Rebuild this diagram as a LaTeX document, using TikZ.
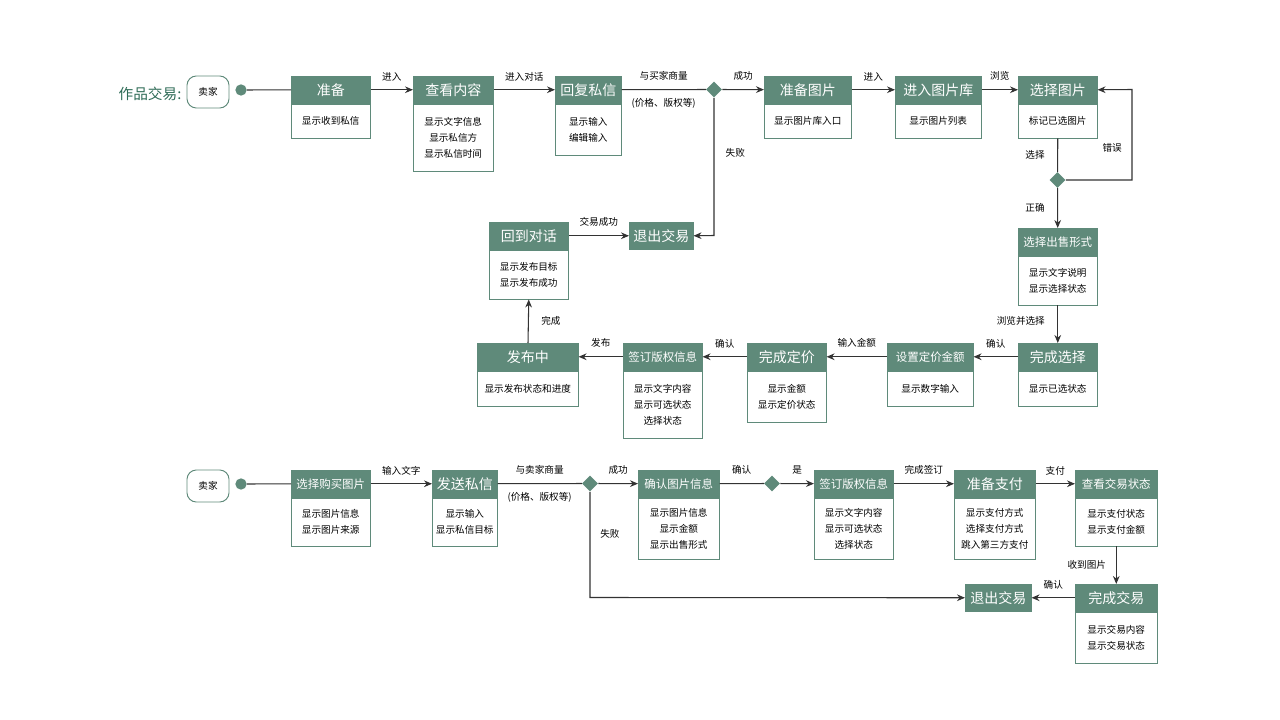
\documentclass[tikz,border=0pt]{standalone}
\usepackage{fontspec}
\setmainfont{Noto Sans CJK SC}
\usetikzlibrary{arrows.meta,shapes.geometric}
\definecolor{hdc}{HTML}{5F8A7A}
\definecolor{ttl}{HTML}{2E6B56}
\definecolor{ln}{HTML}{333333}
\newcommand\sm[1]{{\fontsize{8.6pt}{10pt}\selectfont #1}}
\tikzset{
 hdr/.style={fill=hdc,draw=hdc,text=white,font=\fontsize{10.5pt}{12pt}\selectfont,inner sep=0pt,minimum height=20.25pt},
 bd/.style={draw=hdc,line width=0.7pt,fill=white,align=center,font=\fontsize{7.2pt}{12pt}\selectfont,inner sep=0pt},
 lab/.style={font=\fontsize{7.2pt}{9pt}\selectfont,text=black},
 ar/.style={draw=ln,line width=0.8pt,-{Stealth[length=6pt,width=5pt]}},
 pl/.style={draw=ln,line width=0.8pt},
 dia/.style={diamond,fill=hdc,inner sep=0pt,minimum size=12pt},
 rnd/.style={draw=hdc,line width=0.7pt,rounded corners=7pt,minimum width=31.5pt,minimum height=24pt,font=\fontsize{7.2pt}{9pt}\selectfont},
 dot/.style={circle,fill=hdc,inner sep=0pt,minimum size=8.5pt}
}
\newcommand\blk[7]{%
 \node[hdr,minimum width={(#3-#2)*0.75pt},anchor=north west] (#1) at (#2,#4) {#6};
 \node[bd,minimum width={(#3-#2)*0.75pt},minimum height={(#5-#4-27)*0.75pt},anchor=north] (#1b) at (#1.south) {#7};}
\begin{document}
\begin{tikzpicture}[x=0.75pt,y=-0.75pt]
\useasboundingbox (0,0) rectangle (1280,720);
% row 1
\node[text=ttl,font=\fontsize{11pt}{13pt}\selectfont] (t) at (150,94) {作品交易:};
\node[rnd] (s1) at (208,92) {卖家};
\node[dot] (d1) at (241,90) {};
\blk{a}{291}{370}{76}{137}{准备}{显示收到私信}
\blk{b}{413}{493}{76}{170}{查看内容}{显示文字信息\\显示私信方\\显示私信时间}
\blk{c}{555}{621}{76}{154}{回复私信}{显示输入\\编辑输入}
\node[dia] (q1) at (714,89.5) {};
\blk{e}{764}{851}{76}{137}{准备图片}{显示图片库入口}
\blk{f}{895}{981}{76}{137}{进入图片库}{显示图片列表}
\blk{g}{1018}{1097}{76}{137}{选择图片}{标记已选图片}
\node[dia] (q2) at (1057.5,180) {};
\blk{h}{1018}{1097}{228}{304}{\sm{选择出售形式}}{显示文字说明\\显示选择状态}
\blk{i}{1018}{1097}{343}{405}{完成选择}{显示已选状态}
\blk{j}{887}{973}{343}{405}{\sm{设置定价金额}}{显示数字输入}
\blk{k}{747}{826}{343}{421}{完成定价}{显示金额\\显示定价状态}
\blk{l}{623}{702}{343}{437}{\sm{签订版权信息}}{显示文字内容\\显示可选状态\\选择状态}
\blk{m}{477}{578}{343}{405}{发布中}{显示发布状态和进度}
\blk{n}{489}{568}{222}{298}{回到对话}{显示发布目标\\显示发布成功}
\node[hdr,minimum width=48pt,anchor=north west] (x1) at (629,222) {退出交易};
\draw[pl] (d1) -- (a);
\draw[ar] (a) -- node[lab,above=3pt]{进入} (b);
\draw[ar] (b) -- node[lab,above=3pt]{进入对话} (c);
\draw[pl] (c) -- node[lab,above=3pt]{与买家商量} node[lab,below=3pt]{(价格、版权等)} (q1);
\draw[ar] (q1) -- node[lab,above=3pt]{成功} (e);
\draw[ar] (e) -- node[lab,above=3pt]{进入} (f);
\draw[ar] (f) -- node[lab,above=3pt]{浏览} (g);
\draw[pl] (gb.south) -- node[lab,left=6pt,pos=0.5]{选择} (q2);
\draw[ar] (q2.east) -- (1132,180) -- node[lab,left=4pt,pos=0.35]{错误} (1132,89.5) -- (g.east);
\draw[ar] (q2) -- node[lab,left=6pt]{正确} (h);
\draw[ar] (hb.south) -- node[lab,left=6pt,pos=0.4]{浏览并选择} (i);
\draw[ar] (i) -- node[lab,above=3pt]{确认} (j);
\draw[ar] (j) -- node[lab,above=3pt]{输入金额} (k);
\draw[ar] (k) -- node[lab,above=3pt]{确认} (l);
\draw[ar] (l) -- node[lab,above=3pt]{发布} (m);
\draw[ar] (m) -- node[lab,right=6pt]{完成} (nb.south);
\draw[ar] (n) -- node[lab,above=3pt]{交易成功} (x1);
\draw[ar] (q1.south) -- node[lab,right=5pt,pos=0.4]{失败} (714,235.5) -- (x1.east);
% row 2
\node[rnd] (s2) at (208,486) {卖家};
\node[dot] (d2) at (241,484) {};
\blk{p}{291}{370}{470}{545}{\sm{选择购买图片}}{显示图片信息\\显示图片来源}
\blk{r}{432}{497}{470}{545}{发送私信}{显示输入\\显示私信目标}
\node[dia] (q3) at (590,483.5) {};
\blk{u}{638}{719}{470}{558}{\sm{确认图片信息}}{显示图片信息\\显示金额\\显示出售形式}
\node[dia] (q4) at (772,483.5) {};
\blk{v}{814}{893}{470}{558}{\sm{签订版权信息}}{显示文字内容\\显示可选状态\\选择状态}
\blk{w}{954}{1035}{470}{558}{准备支付}{显示支付方式\\选择支付方式\\跳入第三方支付}
\blk{y}{1075}{1157}{470}{545}{\sm{查看交易状态}}{显示支付状态\\显示支付金额}
\blk{z}{1075}{1157}{584}{662}{完成交易}{显示交易内容\\显示交易状态}
\node[hdr,minimum width=49.5pt,anchor=north west] (x2) at (965,584) {退出交易};
\draw[pl] (d2) -- (p);
\draw[ar] (p) -- node[lab,above=3pt]{输入文字} (r);
\draw[pl] (r) -- node[lab,above=3pt]{与卖家商量} node[lab,below=3pt]{(价格、版权等)} (q3);
\draw[ar] (q3) -- node[lab,above=3pt]{成功} (u);
\draw[pl] (u) -- node[lab,above=3pt]{确认} (q4);
\draw[ar] (q4) -- node[lab,above=3pt]{是} (v);
\draw[ar] (v) -- node[lab,above=3pt]{完成签订} (w);
\draw[ar] (w) -- node[lab,above=3pt]{支付} (y);
\draw[ar] (yb.south) -- node[lab,left=4pt]{收到图片} (z);
\draw[ar] (z) -- node[lab,above=3pt]{确认} (x2);
\draw[ar] (q3.south) -- node[lab,right=4pt,pos=0.4]{失败} (590,597.5) -- (x2.west);
\end{tikzpicture}
\end{document}
